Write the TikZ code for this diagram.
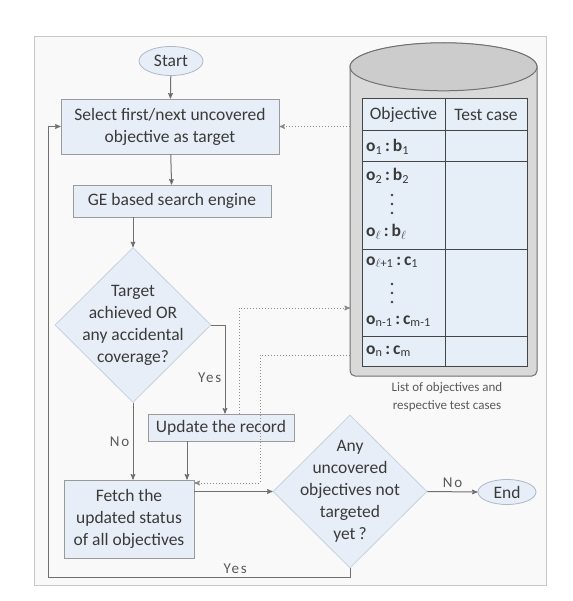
\documentclass[tikz,border=0pt]{standalone}
\usepackage{fontspec}
\setmainfont{Carlito}
\usetikzlibrary{arrows, shapes, positioning}

\definecolor{bgfill}{HTML}{F9F9F9}
\definecolor{framecol}{HTML}{C8C8C8}
\definecolor{boxfill}{HTML}{E8EEF7}
\definecolor{boxline}{HTML}{9A9A9A}
\definecolor{decline}{HTML}{C6D1DF}
\definecolor{termline}{HTML}{AEB8C6}
\definecolor{flowcol}{HTML}{707070}
\definecolor{dotcol}{HTML}{8C8C8C}
\definecolor{dbfill}{HTML}{D9D9D9}
\definecolor{dbline}{HTML}{707070}
\definecolor{tabfill}{HTML}{E6EEF8}
\definecolor{tabline}{HTML}{454545}
\definecolor{txt}{HTML}{3A3A3A}
\definecolor{captxt}{HTML}{5A5A5A}

\newcommand{\objrow}[4]{\textbf{#1}\textsubscript{#2}\,\textbf{:}\,\textbf{#3}\textsubscript{#4}}

\begin{document}
\begin{tikzpicture}[x=1pt,y=-1pt,>=stealth',text=txt,
 font=\fontsize{17.5}{22}\selectfont,
 proc node/.style={rectangle,draw=boxline,fill=boxfill,align=center,inner sep=3pt,line width=0.8pt},
 dec node/.style={diamond,draw=decline,fill=boxfill,align=center,inner sep=-12pt,aspect=1,line width=0.8pt},
 term node/.style={ellipse,draw=termline,fill=boxfill,inner sep=1pt,line width=0.8pt},
 flow/.style={->,draw=flowcol,line width=1pt},
 link/.style={->,draw=dotcol,dotted,line width=1pt},
 ans/.style={text=captxt,font=\fontsize{15}{18}\selectfont\addfontfeature{LetterSpace=12}},
 cell/.style={anchor=west,inner sep=0pt}]

  % frame
  \fill[white] (0,0) rectangle (572,601);
  \draw[draw=framecol,fill=bgfill,line width=1pt] (34,37) rectangle (546,585);
  \useasboundingbox (0,0) rectangle (572,601);

  % flow chart
  \node[term node, minimum width=64pt, minimum height=29pt] (start) at (171,61) {Start};
  \node[proc node, minimum width=218pt, minimum height=55pt] (select) at (170,126.5) {Select first/next uncovered\\objective as target};
  \node[proc node, minimum width=198pt, minimum height=32pt] (ge) at (172,201) {GE based search engine};
  \node[dec node, minimum width=156pt, minimum height=155pt] (target) at (133,325) {Target\\achieved OR\\any accidental\\coverage?};
  \node[proc node, minimum width=146pt, minimum height=27pt] (update) at (221,427.5) {Update the record};
  \node[proc node, minimum width=130pt, minimum height=78pt] (fetch) at (129,519) {Fetch the\\updated status\\of all objectives};
  \node[dec node, minimum width=154pt, minimum height=153pt, inner sep=-16pt] (any) at (350,491.5) {Any\\uncovered\\objectives not\\targeted\\yet\,?};
  \node[term node, minimum width=58pt, minimum height=25pt] (end) at (507,492) {End};

  % record store
  \node[minimum width=187pt, minimum height=309pt, inner sep=0pt] (db) at (443.5,221.5) {};
  \draw[draw=dbline,fill=dbfill,line width=1pt] (350,67) -- (350,371)
    arc[start angle=180, end angle=270, radius=5pt] -- (532,376)
    arc[start angle=270, end angle=360, radius=5pt] -- (537,67)
    arc[start angle=0, end angle=180, x radius=93.5pt, y radius=24pt] -- cycle;
  \draw[draw=dbline,fill=dbfill!94!black,line width=1pt] (db.north) ellipse[x radius=93.5pt, y radius=24pt];
  \draw[draw=tabline,fill=tabfill,line width=1pt] (362,99) rectangle (527,366);
  \foreach \y in {131,162,249,336} {
   \draw[tabline,line width=1pt] (362,\y) -- (527,\y);}
  \draw[tabline,line width=1pt] (445,99) -- (445,366);

  \node[inner sep=0pt] (hobj) at (403.5,115) {Objective};
  \node[inner sep=0pt] (hcase) at (486,115) {Test case};
  \node[cell] (r1) at (366,147) {\objrow{o}{1}{b}{1}};
  \node[cell] (r2) at (366,176) {\objrow{o}{2}{b}{2}};
  \node[cell] (r3) at (366,232) {\objrow{o}{$\ell$}{b}{$\ell$}};
  \node[cell] (r4) at (366,262) {\objrow{o}{$\ell$+1}{c}{1}};
  \node[cell] (r5) at (366,321) {\objrow{o}{n-1}{c}{m-1}};
  \node[cell] (r6) at (366,351) {\objrow{o}{n}{c}{m}};
  \foreach \y in {195,204,213,284,293,302} {
   \fill[txt] (392,\y) circle[radius=1.4pt];}
  \node[text=captxt, align=center, font=\fontsize{13}{18}\selectfont] (caption) at (447,397) {List of objectives and\\respective test cases};

  \coordinate (recin) at (350,308);
  \coordinate (recout) at (350,355);
  \coordinate (loop) at (48,577);

  % connectors
  \path[flow] (start) edge (select);
  \path[flow] (select) edge (ge);
  \draw[flow] (target.north |- ge.south) -- (target.north);
  \draw[flow] (target.east) -| ([xshift=4pt]update.north)
    node[ans, pos=0.8, left] {Yes};
  \draw[flow] (target.south) -- (target.south |- fetch.north)
    node[ans, midway, left] {No};
  \draw[flow] ([xshift=-34pt]update.south) -- ([xshift=-34pt]update.south |- fetch.north);
  \draw[flow] (fetch.east |- any.west) -- (any.west);
  \draw[flow] (any.east) -- (end.west) node[ans, midway, above] {No};
  \draw[flow] (any.south) |- (loop) node[ans, pos=0.69, above] {Yes} |- (select.west);

  \draw[link] (db.west |- select.east) -- (select.east);
  \draw[link] ([xshift=18pt]update.north) |- (recin);
  \draw[link] (recout) -| (260,483) -- (fetch.east |- 260,483);
\end{tikzpicture}
\end{document}
